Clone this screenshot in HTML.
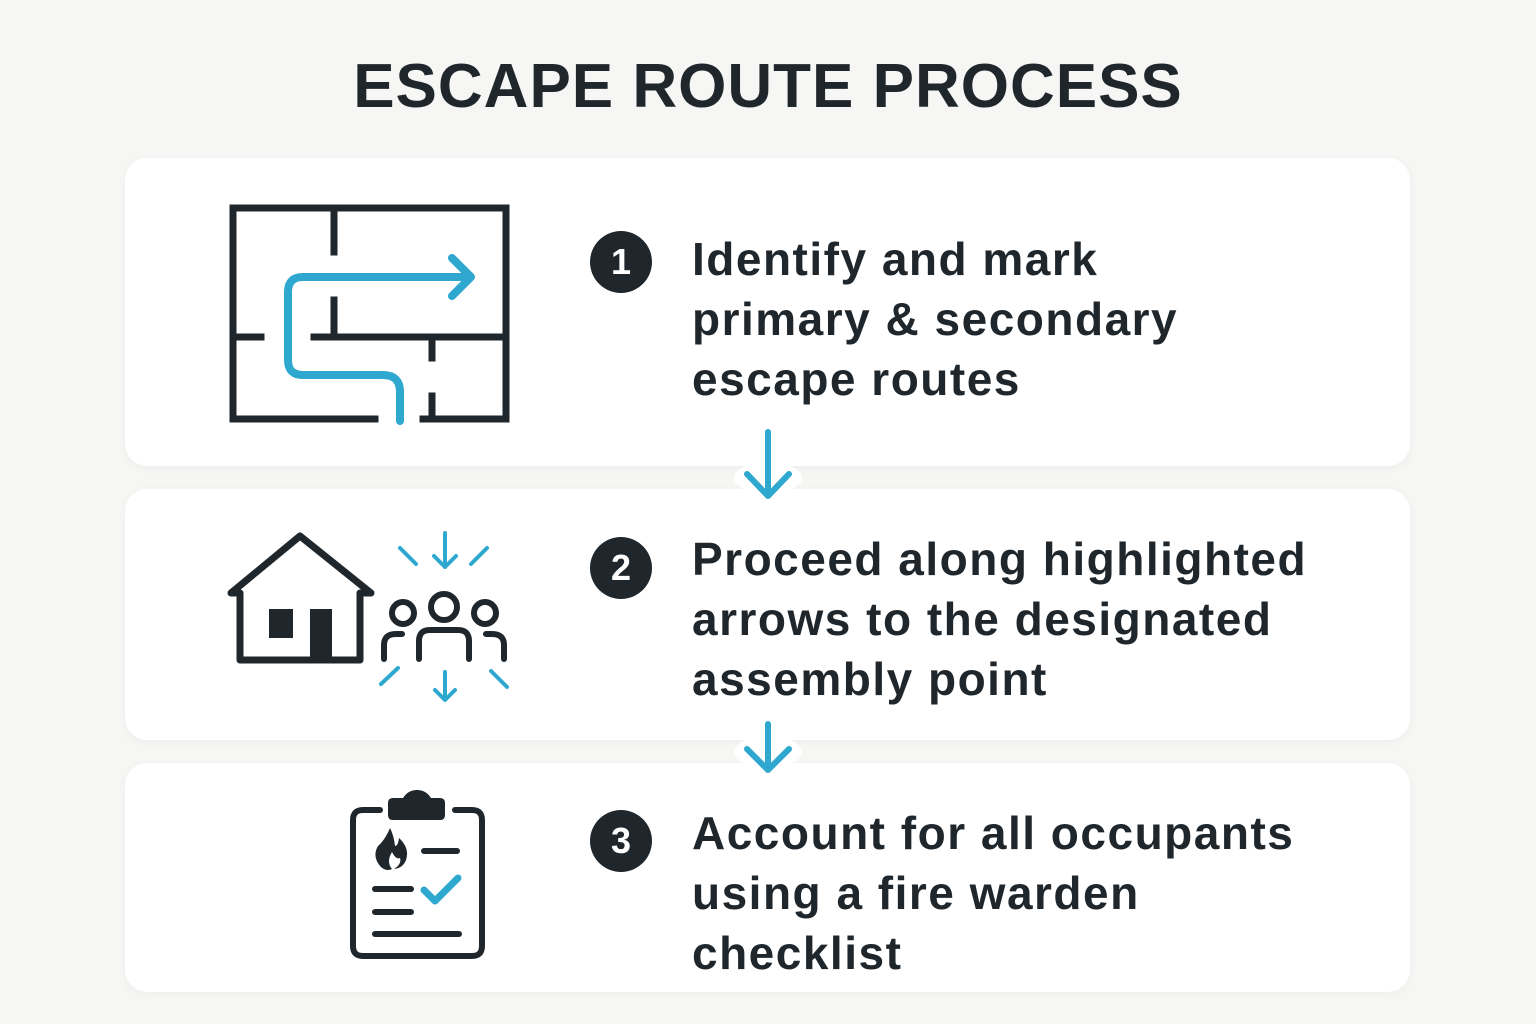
<!DOCTYPE html>
<html><head><meta charset="utf-8"><style>
html,body{margin:0;padding:0;width:1536px;height:1024px;overflow:hidden;background:#f6f6f4;font-family:"Liberation Sans",sans-serif;color:#1f272d}
.title{position:absolute;left:0;width:1536px;top:52px;text-align:center;font-size:62px;font-weight:bold;letter-spacing:1px;line-height:70px}
.card{position:absolute;left:125px;width:1285px;background:#fff;border-radius:22px;box-shadow:0 2px 10px rgba(0,0,0,0.04)}
.num{position:absolute;left:590px;width:62px;height:62px;border-radius:50%;background:#1f272d;color:#fff;font-weight:bold;font-size:36px;line-height:62px;text-align:center}
.txt{position:absolute;left:692px;font-size:46px;font-weight:bold;line-height:60px;letter-spacing:1.5px}
svg{position:absolute;left:0;top:0}
</style></head><body>
<div class="title">ESCAPE ROUTE PROCESS</div>
<div class="card" style="top:158px;height:308px"></div>
<div class="card" style="top:489px;height:251px"></div>
<div class="card" style="top:763px;height:229px"></div>
<div class="num" style="top:231px">1</div>
<div class="num" style="top:537px">2</div>
<div class="num" style="top:810px">3</div>
<div class="txt" style="top:229px">Identify and mark<br>primary &amp; secondary<br>escape routes</div>
<div class="txt" style="top:529px">Proceed along highlighted<br>arrows to the designated<br>assembly point</div>
<div class="txt" style="top:803px">Account for all occupants<br>using a fire warden<br>checklist</div>
<svg width="1536" height="1024" viewBox="0 0 1536 1024">
<g fill="#fff"><ellipse cx="768" cy="478" rx="34" ry="16"/><ellipse cx="768" cy="752" rx="34" ry="16"/></g>
<g stroke="#2fa8cf" stroke-width="6" fill="none" stroke-linecap="round" stroke-linejoin="round">
<path d="M768 432V496M747 474L768 496L789 474"/>
<path d="M768 724V770M747 749L768 770L789 749"/>
</g>
<g stroke="#1f272d" stroke-width="7" fill="none" stroke-linecap="square">
<path d="M375 419H233V208H506V419H423"/>
<path d="M334 208V252M334 300V337M233 337H261M314 337H506M432 337V358M432 396V419"/>
</g>
<g stroke="#2fa8cf" stroke-width="8" fill="none" stroke-linecap="round" stroke-linejoin="round">
<path d="M400 421V392Q400 375 383 375H303Q288 375 288 360V292Q288 277 303 277H470M452 258L471 277L452 296"/>
</g>
<g stroke="#1f272d" stroke-width="7" fill="none" stroke-linejoin="round">
<path d="M231 593L300 536L371 593H360V660H240V593Z"/>
</g>
<rect x="269" y="609" width="24" height="29" fill="#1f272d"/>
<rect x="310" y="609" width="22" height="51" fill="#1f272d"/>
<g stroke="#1f272d" stroke-width="6" fill="none" stroke-linecap="round">
<circle cx="444" cy="607" r="13"/><circle cx="403" cy="613" r="11"/><circle cx="485" cy="613" r="11"/>
<path d="M419 659V641Q419 630 430 630H458Q469 630 469 641V659"/>
<path d="M384 659V645Q384 634 396 634H402"/>
<path d="M504 659V645Q504 634 492 634H486"/>
</g>
<g stroke="#2fa8cf" stroke-width="4" fill="none" stroke-linecap="round" stroke-linejoin="round">
<path d="M445 533V567M434 556L445 567L456 556"/>
<path d="M400 548L416 564M487 548L471 564"/>
<path d="M445 672V700M435 690L445 700L455 690"/>
<path d="M381 684L398 668M507 687L491 671"/>
</g>
<g stroke="#1f272d" stroke-width="6" fill="none" stroke-linecap="round">
<path d="M380 810H363Q353 810 353 820V946Q353 956 363 956H472Q482 956 482 946V820Q482 810 472 810H455"/>
<path d="M424 851H457M375 889H411M375 912H411M375 934H459"/>
</g>
<path d="M388 803Q388 798 393 798H403Q408 790 417 790Q426 790 431 798H440Q445 798 445 803V815Q445 820 440 820H393Q388 820 388 815Z" fill="#1f272d"/>
<path d="M390 828Q385 840 378 846Q372 856 380 866Q386 872 392 869Q386 862 392 852Q396 860 400 858Q402 864 394 869Q403 868 406 860Q410 848 399 838Q398 846 395 846Q394 836 390 828Z" fill="#1f272d"/>
<path d="M424 890L435 901L458 878" stroke="#2fa8cf" stroke-width="7" fill="none" stroke-linecap="round" stroke-linejoin="round"/>
</svg>
</body></html>
